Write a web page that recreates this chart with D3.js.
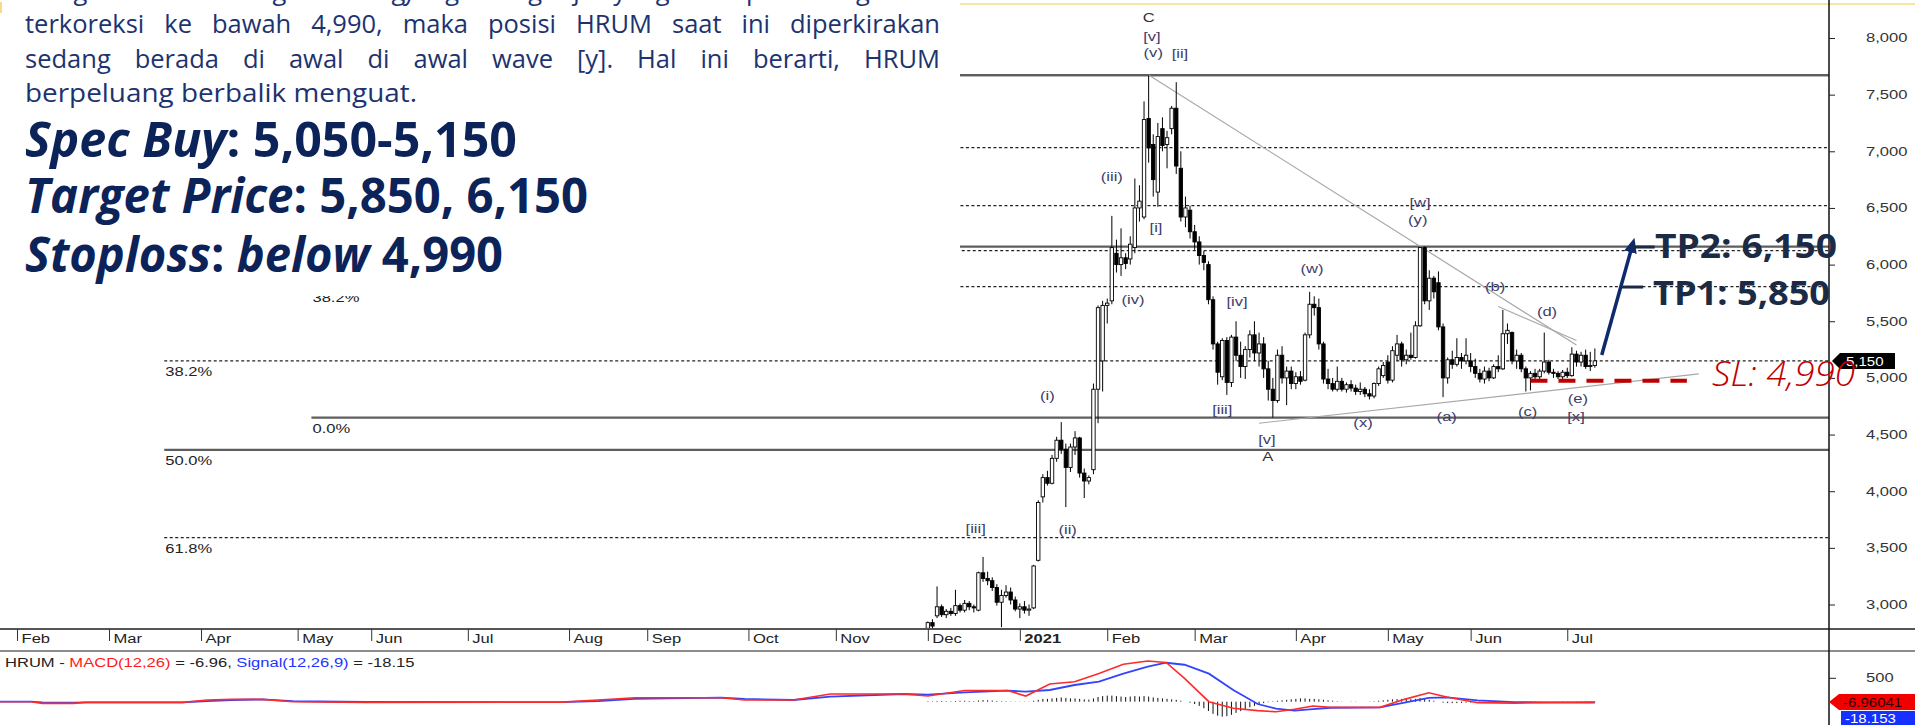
<!DOCTYPE html>
<html>
<head>
<meta charset="utf-8">
<script src="https://cdn.jsdelivr.net/npm/d3@7"></script>
<style>
  html, body { margin: 0; padding: 0; background: #fff; }
  svg { display: block; }
  .ctext { font-family: "Liberation Sans", Arial, sans-serif; font-size: 12px; fill: #222; }
  .wave { fill: #3d3d6b; }
  .para { font-family: "Open Sans", "Noto Sans", sans-serif; font-size: 25.5px; fill: #1d3370; }
  .big { font-family: "Open Sans", "Noto Sans", sans-serif; font-size: 48px; font-weight: 700; fill: #0b2359; }
  .tp { font-family: "Open Sans", "Noto Sans", sans-serif; font-size: 34px; font-weight: 700; fill: #1b2a45; }
  .sl { font-family: "Open Sans", "Noto Sans", sans-serif; font-size: 34px; font-style: italic; font-weight: 300; fill: #c00000; }
</style>
</head>
<body>
<div id="chart"></div>
<script>
// ---------- data ----------
// month ticks, as trading-day offsets from the first candle (1 Dec 2020)
const monthTicks = [-198, -178, -158, -137, -121, -100, -78, -61, -39, -20, 0, 20, 39, 58, 80, 100, 118, 139];
const monthLabels = ["Feb", "Mar", "Apr", "May", "Jun", "Jul", "Aug", "Sep", "Oct", "Nov", "Dec", "2021", "Feb", "Mar", "Apr", "May", "Jun", "Jul"];

const priceTicks = [3000, 3500, 4000, 4500, 5000, 5500, 6000, 6500, 7000, 7500, 8000];

// daily HRUM candles, Dec 2020 - Jul 2021
const openPx = [
  2790, 2840, 2900, 2980, 2910, 2940, 2920, 2990, 2950, 3010, 2980, 2950, 3280, 3230, 3210, 3150, 3020, 3080, 3110, 3040,
  2960, 2980, 2950, 2970, 3390, 3950, 4120, 4070, 4290, 4450, 4370, 4210, 4390, 4470, 4160, 4090, 4190, 4900, 5150, 5640,
  5680, 6100, 6000, 6060, 6050, 6150, 6500, 6420, 7290, 7060, 6640, 7200, 7060, 7200, 7380, 6850, 6420, 6480, 6290, 6200,
  6080, 6000, 5690, 5300, 5010, 5330, 4960, 5360, 5200, 5100, 5250, 5380, 5220, 5300, 5080, 4900, 4800, 5200, 5000, 5060,
  4950, 5010, 4980, 5380, 5650, 5620, 5300, 4990, 4950, 4900, 4970, 4900, 4940, 4910, 4880, 4900, 4860, 4840, 4950, 5020,
  5140, 4980, 5200, 5300, 5160, 5200, 5180, 5460, 6150, 5680, 5880, 5840, 5450, 5000, 5160, 5120, 5180, 5150, 5150, 5100,
  5040, 4990, 5060, 5000, 5100, 5080, 5390, 5400, 5150, 5200, 5080, 5000, 5040, 5010, 5060, 5140, 5050, 5040, 5010, 5050,
  5020, 5210, 5140, 5200, 5100, 5110
];
const highPx = [
  2850, 2870, 3160, 3000, 2960, 2970, 3130, 3010, 3040, 3030, 3000, 3290, 3420, 3290, 3240, 3180, 3130, 3170, 3150, 3070,
  3010, 3030, 3000, 3350, 3920, 4150, 4180, 4320, 4480, 4610, 4420, 4420, 4530, 4480, 4200, 4140, 4950, 5640, 5680, 5700,
  6430, 6220, 6320, 6100, 6250, 6760, 6700, 7440, 7670, 7150, 7250, 7300, 7180, 7400, 7610, 7000, 6600, 6520, 6350, 6250,
  6120, 6030, 5720, 5320, 5350, 5360, 5380, 5500, 5320, 5280, 5420, 5500, 5400, 5360, 5150, 5000, 5250, 5280, 5100, 5100,
  5050, 5060, 5400, 5760, 5720, 5700, 5320, 5080, 5000, 5100, 5000, 4960, 4980, 4940, 4960, 4920, 4900, 4960, 5100, 5140,
  5200, 5280, 5380, 5320, 5250, 5400, 5500, 6160, 6160, 5950, 5900, 5940, 5480, 5180, 5240, 5350, 5220, 5350, 5220, 5170,
  5080, 5100, 5090, 5120, 5200, 5600, 5480, 5410, 5250, 5220, 5100, 5060, 5080, 5080, 5400, 5160, 5080, 5060, 5070, 5090,
  5270, 5240, 5230, 5250, 5230, 5260
];
const lowPx = [
  2780, 2790, 2880, 2890, 2880, 2900, 2900, 2930, 2930, 2950, 2930, 2940, 3200, 3170, 3120, 2990, 2800, 3060, 3000, 2940,
  2880, 2920, 2900, 2960, 3380, 3900, 4050, 4060, 4260, 4330, 3860, 4170, 4320, 4120, 3940, 4060, 4150, 4600, 4880, 5480,
  5650, 5930, 5900, 5960, 6000, 6100, 6380, 6400, 6900, 6600, 6510, 7000, 6850, 7150, 6800, 6380, 6330, 6230, 6130, 6000,
  5950, 5650, 5250, 4940, 4980, 4850, 4920, 5150, 5000, 4990, 5180, 5150, 5100, 5000, 4800, 4650, 4780, 4950, 4760, 4900,
  4900, 4940, 4970, 5350, 5550, 5250, 4950, 4900, 4880, 4880, 4880, 4870, 4880, 4850, 4850, 4830, 4810, 4820, 4930, 5000,
  4950, 4960, 5150, 5100, 5120, 5160, 5170, 5450, 5650, 5600, 5700, 5420, 4830, 4950, 5080, 5100, 5080, 5120, 5050, 5000,
  4960, 4950, 4970, 4990, 5050, 5070, 5300, 5120, 5080, 5050, 4880, 4890, 4980, 4990, 5040, 5030, 5000, 4990, 4990, 5000,
  5010, 5100, 5100, 5080, 5060, 5090
];
const closePx = [
  2840, 2810, 2980, 2910, 2940, 2920, 2990, 2950, 3010, 2980, 2970, 3280, 3230, 3210, 3150, 3020, 3080, 3110, 3040, 2960,
  2980, 2950, 2960, 3340, 3900, 4120, 4070, 4290, 4450, 4370, 4210, 4390, 4470, 4160, 4090, 4120, 4900, 5620, 5640, 5660,
  6150, 6000, 6060, 6010, 6180, 6500, 6560, 7280, 7030, 6750, 7130, 7050, 7120, 7380, 6870, 6420, 6500, 6290, 6200, 6080,
  6020, 5690, 5300, 5050, 5330, 4960, 5360, 5200, 5100, 5250, 5380, 5220, 5300, 5080, 4900, 4800, 5200, 5000, 5060, 4950,
  5010, 4970, 5380, 5650, 5620, 5300, 4990, 4950, 4900, 4970, 4900, 4940, 4910, 4880, 4900, 4860, 4840, 4950, 5080, 5110,
  4980, 5240, 5300, 5160, 5200, 5180, 5460, 6150, 5680, 5880, 5760, 5450, 5000, 5160, 5120, 5180, 5150, 5200, 5100, 5040,
  4990, 5060, 5000, 5100, 5080, 5390, 5420, 5150, 5200, 5080, 5000, 5040, 5010, 5060, 5140, 5050, 5040, 5010, 5050, 5020,
  5210, 5140, 5200, 5100, 5110, 5150
];

// fibonacci tool levels (two drawings)
const fibALevels = [7673, 6123, 5150, 4364, 3590];
const fibALabels = ["0.0%", "23.6%", "38.2%", "50.0%", "61.8%"];
const fibAFrom = -166;
const fibBLevels = [4649, 5805, 6158, 6520, 7032, 7673];
const fibBLabels = ["0.0%", "38.2%", "50.0%", "61.8%", "78.6%", "100.0%"];
const fibBFrom = -134;

// trend lines: [day, price] -> [day, price]
const trendFrom = [[48, 7673], [124, 5630], [72, 4600]];
const trendTo = [[141, 5290], [141, 5330], [167.6, 5035]];

// elliott wave labels
const waveText = ["C", "[v]", "(v)", "[ii]", "(iii)", "[i]", "(iv)", "[iv]", "(w)", "[w]", "(y)", "(b)", "(d)",
  "(i)", "[iii]", "(x)", "(a)", "(c)", "(e)", "[x]", "[v]", "A", "[iii]", "(ii)"];
const waveT = [48, 48.7, 49, 54.8, 40, 49.6, 44.6, 67.2, 83.5, 107, 106.5, 123.3, 134.6,
  26, 64, 94.6, 112.8, 130.4, 141.3, 140.9, 73.7, 73.9, 10.4, 30.4];
const waveP = [8177, 8009, 7868, 7859, 6773, 6323, 5688, 5670, 5961, 6544, 6394, 5802, 5582,
  4840, 4717, 4602, 4655, 4699, 4814, 4655, 4452, 4302, 3666, 3657];

// MACD(12,26) and signal(12,26,9), sampled
const macdT = [-201.7, -195, -192.5, -185.8, -183, -162, -156.6, -151.3, -144.7, -138, -122, -79.6, -71.7, -63.7,
  -45, -39.8, -29.2, -21.2, -5.2, 0, 8, 17.3, 21.3, 26.5, 31.9, 37.2, 42.5, 47.8, 51.8, 55.8, 61.1, 66.4, 71.7,
  75.7, 79.7, 83.7, 87.6, 98.3, 103.6, 108.9, 112.8, 119.5, 127.5, 143.4, 145];
const macdLine = [0, 0, -36, -36, -14, -14, 36, 50, 50, 0, -14, -10, 36, 85,
  85, 36, 36, 164, 164, 121, 240, 240, 121, 380, 427, 605, 800, 869, 840, 500, 0, -140, -190,
  -214, -160, -93, -121, -121, 50, 192, 100, -21, -30, -10, -7];
const signalLine = [0, 0, -14, -20, -14, -14, 14, 36, 50, 14, -7, -10, 14, 60,
  85, 60, 36, 110, 164, 150, 200, 235, 214, 250, 357, 430, 600, 748, 833, 790, 600, 250, -50,
  -150, -192, -160, -130, -121, -20, 80, 93, 30, -10, -18, -18];
// histogram, one value per candle day
const macdHist = [
  10, 10, 15, 15, 10, 10, 15, 20, 20, 15, 10, 25, 35, 30, 25, 15, 10, 10, 5, 5,
  5, 5, 5, 20, 40, 60, 60, 70, 80, 90, 80, 70, 70, 60, 50, 45, 70, 100, 120, 130,
  130, 120, 110, 100, 110, 120, 110, 120, 110, 90, 80, 70, 60, 50, 40, 20, 0, -20,
  -50, -90, -140, -200, -260, -300, -320, -310, -280, -240, -200, -160, -120, -90, -60, -30, -10, 10, 20, 30, 40, 50,
  60, 70, 70, 60, 60, 50, 40, 30, 20, 10, 5, 0, -5, -5, 0, 0, 5, 10, 20, 30,
  40, 50, 55, 60, 60, 55, 60, 80, 60, 40, 20, 0, -20, -30, -30, -30, -25, -20,
  -20, -20, -15, -15, -10, -10, -5, 0, 5, 5, 0, -5, -10, -10, -10, -5, 0, 0, -5, -5, -5, -5, 0, 5, 5, 5, 10, 10
];

// ---------- layout ----------
const W = 1915, H = 725;
const axisX = 1829;
const SX = 1.38; // chart fonts are drawn wide

const svg = d3.select("#chart").append("svg").attr("width", W).attr("height", H);

const x = d3.scaleLinear().domain([-201.7, 195.9]).range([0, axisX]);
const y = d3.scaleLinear().domain([2775, 8300]).range([630, 4]);
const yM = d3.scaleLinear().domain([-400, 900]).range([720.4, 659.6]);

const defs = svg.append("defs");
defs.append("clipPath").attr("id", "clipPrice")
  .append("rect").attr("x", 0).attr("y", 0).attr("width", axisX).attr("height", 629);
defs.append("clipPath").attr("id", "clipMacd")
  .append("rect").attr("x", 0).attr("y", 652).attr("width", axisX).attr("height", 73);
defs.append("marker").attr("id", "arrowHead")
  .attr("viewBox", "0 0 14 12").attr("refX", 9).attr("refY", 6)
  .attr("markerWidth", 15).attr("markerHeight", 13)
  .attr("markerUnits", "userSpaceOnUse").attr("orient", "auto")
  .append("path").attr("d", "M0,0 L14,6 L0,12 Z").attr("fill", "#0d2a6b");

function wideText(g, px, py, str, cls, sx) {
  return g.append("text").attr("class", cls)
    .attr("transform", `translate(${px},${py}) scale(${sx || SX},1)`)
    .text(str);
}

// top yellow rule
svg.append("line").attr("x1", 960).attr("x2", W).attr("y1", 4).attr("y2", 4)
  .attr("stroke", "#f6dc86").attr("stroke-width", 1.5);

// ---------- price panel ----------
const price = svg.append("g").attr("clip-path", "url(#clipPrice)");

function drawFib(levels, labels, from) {
  levels.forEach((lv, i) => {
    const solid = ["0.0%", "50.0%", "100.0%"].includes(labels[i]);
    price.append("line")
      .attr("x1", x(from)).attr("x2", axisX)
      .attr("y1", y(lv)).attr("y2", y(lv))
      .attr("stroke", solid ? "#5e5e5e" : "#222")
      .attr("stroke-width", solid ? 2.2 : 1.2)
      .attr("stroke-dasharray", solid ? null : "3,2.5");
    wideText(price, x(from) + 1, y(lv) + 15, labels[i], "ctext");
  });
}
drawFib(fibALevels, fibALabels, fibAFrom);
drawFib(fibBLevels, fibBLabels, fibBFrom);

price.selectAll(".trend")
  .data(trendFrom.map((f, i) => [f, trendTo[i]]))
  .join("line").attr("class", "trend")
  .attr("x1", d => x(d[0][0])).attr("y1", d => y(d[0][1]))
  .attr("x2", d => x(d[1][0])).attr("y2", d => y(d[1][1]))
  .attr("stroke", "#a8a8a8").attr("stroke-width", 1.2);

const candles = closePx.map((c, i) => ({ t: i, o: openPx[i], h: highPx[i], l: lowPx[i], c: c }));

price.selectAll(".wick")
  .data(candles).join("line").attr("class", "wick")
  .attr("x1", d => x(d.t)).attr("x2", d => x(d.t))
  .attr("y1", d => y(d.h)).attr("y2", d => y(d.l))
  .attr("stroke", "#000").attr("stroke-width", 1);

price.selectAll(".body")
  .data(candles).join("rect").attr("class", "body")
  .attr("x", d => x(d.t) - 1.7)
  .attr("width", 3.4)
  .attr("y", d => y(Math.max(d.o, d.c)))
  .attr("height", d => Math.max(1, Math.abs(y(d.o) - y(d.c))))
  .attr("fill", d => d.c >= d.o ? "#fff" : "#000")
  .attr("stroke", "#000").attr("stroke-width", 0.9);

waveText.forEach((txt, i) => {
  wideText(price, x(waveT[i]), y(waveP[i]) + 4, txt, "ctext wave")
    .attr("text-anchor", "middle")
    .style("fill", (txt === "C" || txt === "A") ? "#333" : null);
});

// ---------- commentary box ----------
svg.append("rect").attr("x", 0).attr("y", 0).attr("width", 960).attr("height", 296).attr("fill", "#fff");
svg.append("line").attr("x1", 1).attr("x2", 1).attr("y1", 2).attr("y2", 13)
  .attr("stroke", "#f6dc86").attr("stroke-width", 2);

const paraLines = [
  { s: "Dengan asumsi bahwa gelombang yang sedang terjadi yang mana apabila harga tidak", y: 0, just: true },
  { s: "terkoreksi ke bawah 4,990, maka posisi HRUM saat ini diperkirakan", y: 33, just: true },
  { s: "sedang berada di awal di awal wave [y]. Hal ini berarti, HRUM", y: 68, just: true },
  { s: "berpeluang berbalik menguat.", y: 102, just: false }
];
paraLines.forEach(p => {
  const t = svg.append("text").attr("class", "para").attr("x", 25).attr("y", p.y).text(p.s);
  const w = t.node().getComputedTextLength();
  if (p.just) {
    const gaps = p.s.split(" ").length - 1;
    t.attr("word-spacing", (915 - w) / gaps);
  } else {
    t.attr("textLength", 392).attr("lengthAdjust", "spacingAndGlyphs");
  }
});

const bigLines = [
  { parts: [["Spec Buy", true], [": 5,050-5,150", false]], y: 157, w: 492 },
  { parts: [["Target Price", true], [": 5,850, 6,150", false]], y: 213, w: 563 },
  { parts: [["Stoploss", true], [": ", false], ["below", true], [" 4,990", false]], y: 272, w: 478 }
];
bigLines.forEach(b => {
  const t = svg.append("text").attr("class", "big").attr("x", 25).attr("y", b.y)
    .attr("textLength", b.w).attr("lengthAdjust", "spacingAndGlyphs");
  b.parts.forEach(p => t.append("tspan").style("font-style", p[1] ? "italic" : "normal").text(p[0]));
});

// ---------- trade plan ----------
const plan = svg.append("g");
plan.append("line")
  .attr("x1", x(146.5)).attr("y1", y(5202))
  .attr("x2", x(153.3)).attr("y2", y(6191))
  .attr("stroke", "#0d2a6b").attr("stroke-width", 3.5)
  .attr("marker-end", "url(#arrowHead)");

plan.append("line").attr("x1", x(153)).attr("x2", x(158))
  .attr("y1", y(6155)).attr("y2", y(6155))
  .attr("stroke", "#1b2a45").attr("stroke-width", 3);
plan.append("line").attr("x1", x(150.9)).attr("x2", x(155.5))
  .attr("y1", y(5802)).attr("y2", y(5802))
  .attr("stroke", "#1b2a45").attr("stroke-width", 3);

plan.append("line").attr("x1", x(131)).attr("x2", x(165))
  .attr("y1", y(4975)).attr("y2", y(4975))
  .attr("stroke", "#c00000").attr("stroke-width", 4)
  .attr("stroke-dasharray", "17,11");

plan.append("text").attr("class", "tp").attr("x", 1655).attr("y", y(6155) + 11)
  .attr("textLength", 182).attr("lengthAdjust", "spacingAndGlyphs").text("TP2: 6,150");
plan.append("text").attr("class", "tp").attr("x", 1653).attr("y", y(5802) + 18)
  .attr("textLength", 177).attr("lengthAdjust", "spacingAndGlyphs").text("TP1: 5,850");

// ---------- axes ----------
const axes = svg.append("g");
axes.append("line").attr("x1", 0).attr("x2", W).attr("y1", 629).attr("y2", 629)
  .attr("stroke", "#555").attr("stroke-width", 2);
axes.append("line").attr("x1", 0).attr("x2", W).attr("y1", 651).attr("y2", 651)
  .attr("stroke", "#666").attr("stroke-width", 1.6);
axes.append("line").attr("x1", axisX).attr("x2", axisX).attr("y1", 0).attr("y2", H)
  .attr("stroke", "#111").attr("stroke-width", 1.5);

const xAxisG = axes.append("g").attr("transform", "translate(0,629)")
  .call(d3.axisBottom(x).tickValues(monthTicks).tickSize(12).tickFormat((d, i) => monthLabels[i]));
xAxisG.select(".domain").remove();
xAxisG.selectAll(".tick line").attr("stroke", "#333");
xAxisG.selectAll(".tick text")
  .attr("class", "ctext").attr("y", null).attr("dy", null)
  .attr("text-anchor", "start")
  .attr("transform", `translate(4,14) scale(${SX},1)`)
  .style("font-weight", (d, i) => monthLabels[i] === "2021" ? "700" : null);

const yAxisG = axes.append("g").attr("transform", `translate(${axisX},0)`)
  .call(d3.axisRight(y).tickValues(priceTicks).tickSize(6).tickFormat(d3.format(",")));
yAxisG.select(".domain").remove();
yAxisG.selectAll(".tick line").attr("stroke", "#222");
yAxisG.selectAll(".tick text")
  .attr("class", "ctext").attr("x", null).attr("dy", null)
  .attr("text-anchor", "start")
  .attr("transform", `translate(37,4) scale(${SX},1)`)
  .style("fill", "#333");

// last price tag
const lastY = y(closePx[closePx.length - 1]);
axes.append("polygon")
  .attr("points", `${axisX + 3},${lastY} ${axisX + 11},${lastY - 8} 1895,${lastY - 8} 1895,${lastY + 8} ${axisX + 11},${lastY + 8}`)
  .attr("fill", "#000");
wideText(axes, 1846, lastY + 5, d3.format(",")(closePx[closePx.length - 1]), "ctext", 1.25).style("fill", "#fff");

// stop loss label drawn over the tag
plan.raise();
svg.append("text").attr("class", "sl").attr("x", 1712).attr("y", y(4975) + 5)
  .attr("textLength", 143).attr("lengthAdjust", "spacingAndGlyphs").text("SL: 4,990");

// ---------- MACD panel ----------
const macd = svg.append("g").attr("clip-path", "url(#clipMacd)");

macd.selectAll(".hist")
  .data(macdHist).join("line").attr("class", "hist")
  .attr("x1", (d, i) => x(i)).attr("x2", (d, i) => x(i))
  .attr("y1", yM(0)).attr("y2", d => yM(d))
  .attr("stroke", "#111").attr("stroke-width", 1);

const macdPts = macdT.map((t, i) => ({ t, m: macdLine[i], s: signalLine[i] }));
macd.append("path").datum(macdPts)
  .attr("fill", "none").attr("stroke", "#3344ff").attr("stroke-width", 1.8)
  .attr("d", d3.line().x(d => x(d.t)).y(d => yM(d.s)));
macd.append("path").datum(macdPts)
  .attr("fill", "none").attr("stroke", "#ff2a2a").attr("stroke-width", 1.6)
  .attr("d", d3.line().x(d => x(d.t)).y(d => yM(d.m)));

const mLabel = svg.append("text").attr("class", "ctext")
  .attr("transform", `translate(5,667) scale(${SX},1)`);
mLabel.append("tspan").text("HRUM - ");
mLabel.append("tspan").style("fill", "#ff1a1a").text("MACD(12,26)");
mLabel.append("tspan").text(" = -6.96, ");
mLabel.append("tspan").style("fill", "#2233ff").text("Signal(12,26,9)");
mLabel.append("tspan").text(" = -18.15");

axes.append("line").attr("x1", axisX).attr("x2", axisX + 7).attr("y1", yM(500)).attr("y2", yM(500))
  .attr("stroke", "#222");
wideText(svg, 1866, yM(500) + 4, "500", "ctext").style("fill", "#333");

const mY = yM(macdLine[macdLine.length - 1]);
svg.append("polygon")
  .attr("points", `${axisX},${mY} ${axisX + 10},${mY - 8} ${W},${mY - 8} ${W},${mY + 8} ${axisX + 10},${mY + 8}`)
  .attr("fill", "#f20000");
wideText(svg, 1843, mY + 5, "-6.96041", "ctext", 1.25).style("fill", "#2a0000");
svg.append("rect").attr("x", 1841).attr("y", mY + 9).attr("width", W - 1841).attr("height", 20)
  .attr("fill", "#1530ff");
wideText(svg, 1845, mY + 21, "-18.153", "ctext", 1.25).style("fill", "#fff");
</script>
</body>
</html>
